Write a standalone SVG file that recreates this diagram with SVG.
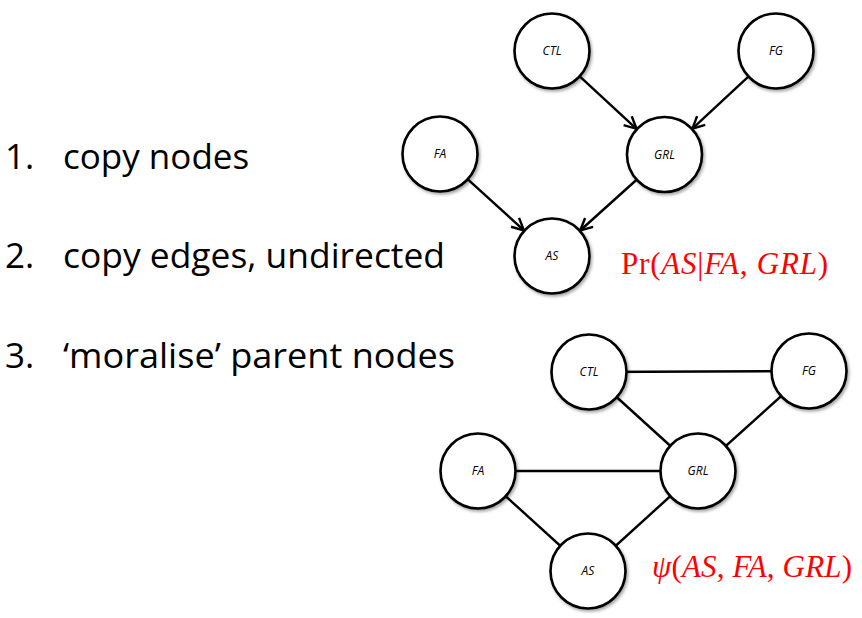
<svg xmlns="http://www.w3.org/2000/svg" width="862" height="618" viewBox="0 0 862 618">
<style>
.step{font-family:"Open Sans","Liberation Sans",sans-serif;font-size:35px;fill:#000}
.node circle{fill:#fff;stroke:#000;stroke-width:2.6;filter:url(#sh)}
.node text{font-family:"Open Sans","Liberation Sans",sans-serif;font-style:italic;font-size:12px;fill:#000;text-anchor:middle}
.edge{stroke:#000;stroke-width:2.4;fill:none}
.math{font-family:"Liberation Serif","DejaVu Serif",serif;font-size:31px;fill:#f00}
.it{font-style:italic}
</style>
<defs>
<filter id="sh" x="-20%" y="-20%" width="150%" height="150%">
<feDropShadow dx="1.5" dy="2" stdDeviation="1.5" flood-color="#000" flood-opacity="0.35"/>
</filter>
<marker id="arr" markerUnits="userSpaceOnUse" markerWidth="20" markerHeight="20" refX="14" refY="8" orient="auto">
<path d="M2,2 L14,8 L2,14" fill="none" stroke="#000" stroke-width="2.4" stroke-linejoin="miter"/>
</marker>
</defs>
<rect width="862" height="618" fill="#fff"/>
<text class="step" x="5" y="169">1.<tspan x="63">copy nodes</tspan></text>
<text class="step" x="5" y="268">2.<tspan x="63" textLength="382" lengthAdjust="spacingAndGlyphs">copy edges, undirected</tspan></text>
<text class="step" x="5" y="368">3.<tspan x="63" textLength="392" lengthAdjust="spacingAndGlyphs">‘moralise’ parent nodes</tspan></text>
<g id="connectors">
<line class="edge" x1="580" y1="76.7" x2="636.5" y2="128.8" marker-end="url(#arr)"/>
<line class="edge" x1="748.1" y1="76.9" x2="692.4" y2="128.7" marker-end="url(#arr)"/>
<line class="edge" x1="468.1" y1="179.6" x2="523.9" y2="230.4" marker-end="url(#arr)"/>
<line class="edge" x1="636.3" y1="180" x2="580.2" y2="230.5" marker-end="url(#arr)"/>
<line class="edge" x1="589" y1="372" x2="809" y2="371"/>
<line class="edge" x1="589" y1="372" x2="698" y2="471"/>
<line class="edge" x1="809" y1="371" x2="698" y2="471"/>
<line class="edge" x1="478" y1="471" x2="698" y2="471"/>
<line class="edge" x1="478" y1="471" x2="588" y2="571"/>
<line class="edge" x1="698" y1="471" x2="588" y2="571"/>
</g>
<g id="t-ctl" class="node"><circle cx="552" cy="51" r="37.5"/><text x="552" y="55">CTL</text></g>
<g id="t-fg" class="node"><circle cx="776" cy="51" r="37.5"/><text x="776" y="55">FG</text></g>
<g id="t-fa" class="node"><circle cx="440" cy="154" r="37.5"/><text x="440" y="158">FA</text></g>
<g id="t-grl" class="node"><circle cx="664.5" cy="154.5" r="37.5"/><text x="664.5" y="158.5">GRL</text></g>
<g id="t-as" class="node"><circle cx="552" cy="256" r="37.5"/><text x="552" y="260">AS</text></g>
<g id="b-ctl" class="node"><circle cx="589" cy="372" r="37.5"/><text x="589" y="376">CTL</text></g>
<g id="b-fg" class="node"><circle cx="809" cy="371" r="37.5"/><text x="809" y="375">FG</text></g>
<g id="b-fa" class="node"><circle cx="478" cy="471" r="37.5"/><text x="478" y="475">FA</text></g>
<g id="b-grl" class="node"><circle cx="698" cy="471" r="37.5"/><text x="698" y="475">GRL</text></g>
<g id="b-as" class="node"><circle cx="588" cy="571" r="37.5"/><text x="588" y="575">AS</text></g>
<text class="math" x="621" y="274" textLength="207" lengthAdjust="spacing">Pr(<tspan class="it">AS</tspan>|<tspan class="it">FA</tspan>, <tspan class="it">GRL</tspan>)</text>
<text class="math" x="652" y="577" textLength="200" lengthAdjust="spacing"><tspan class="it">ψ</tspan>(<tspan class="it">AS</tspan>, <tspan class="it">FA</tspan>, <tspan class="it">GRL</tspan>)</text>
</svg>
